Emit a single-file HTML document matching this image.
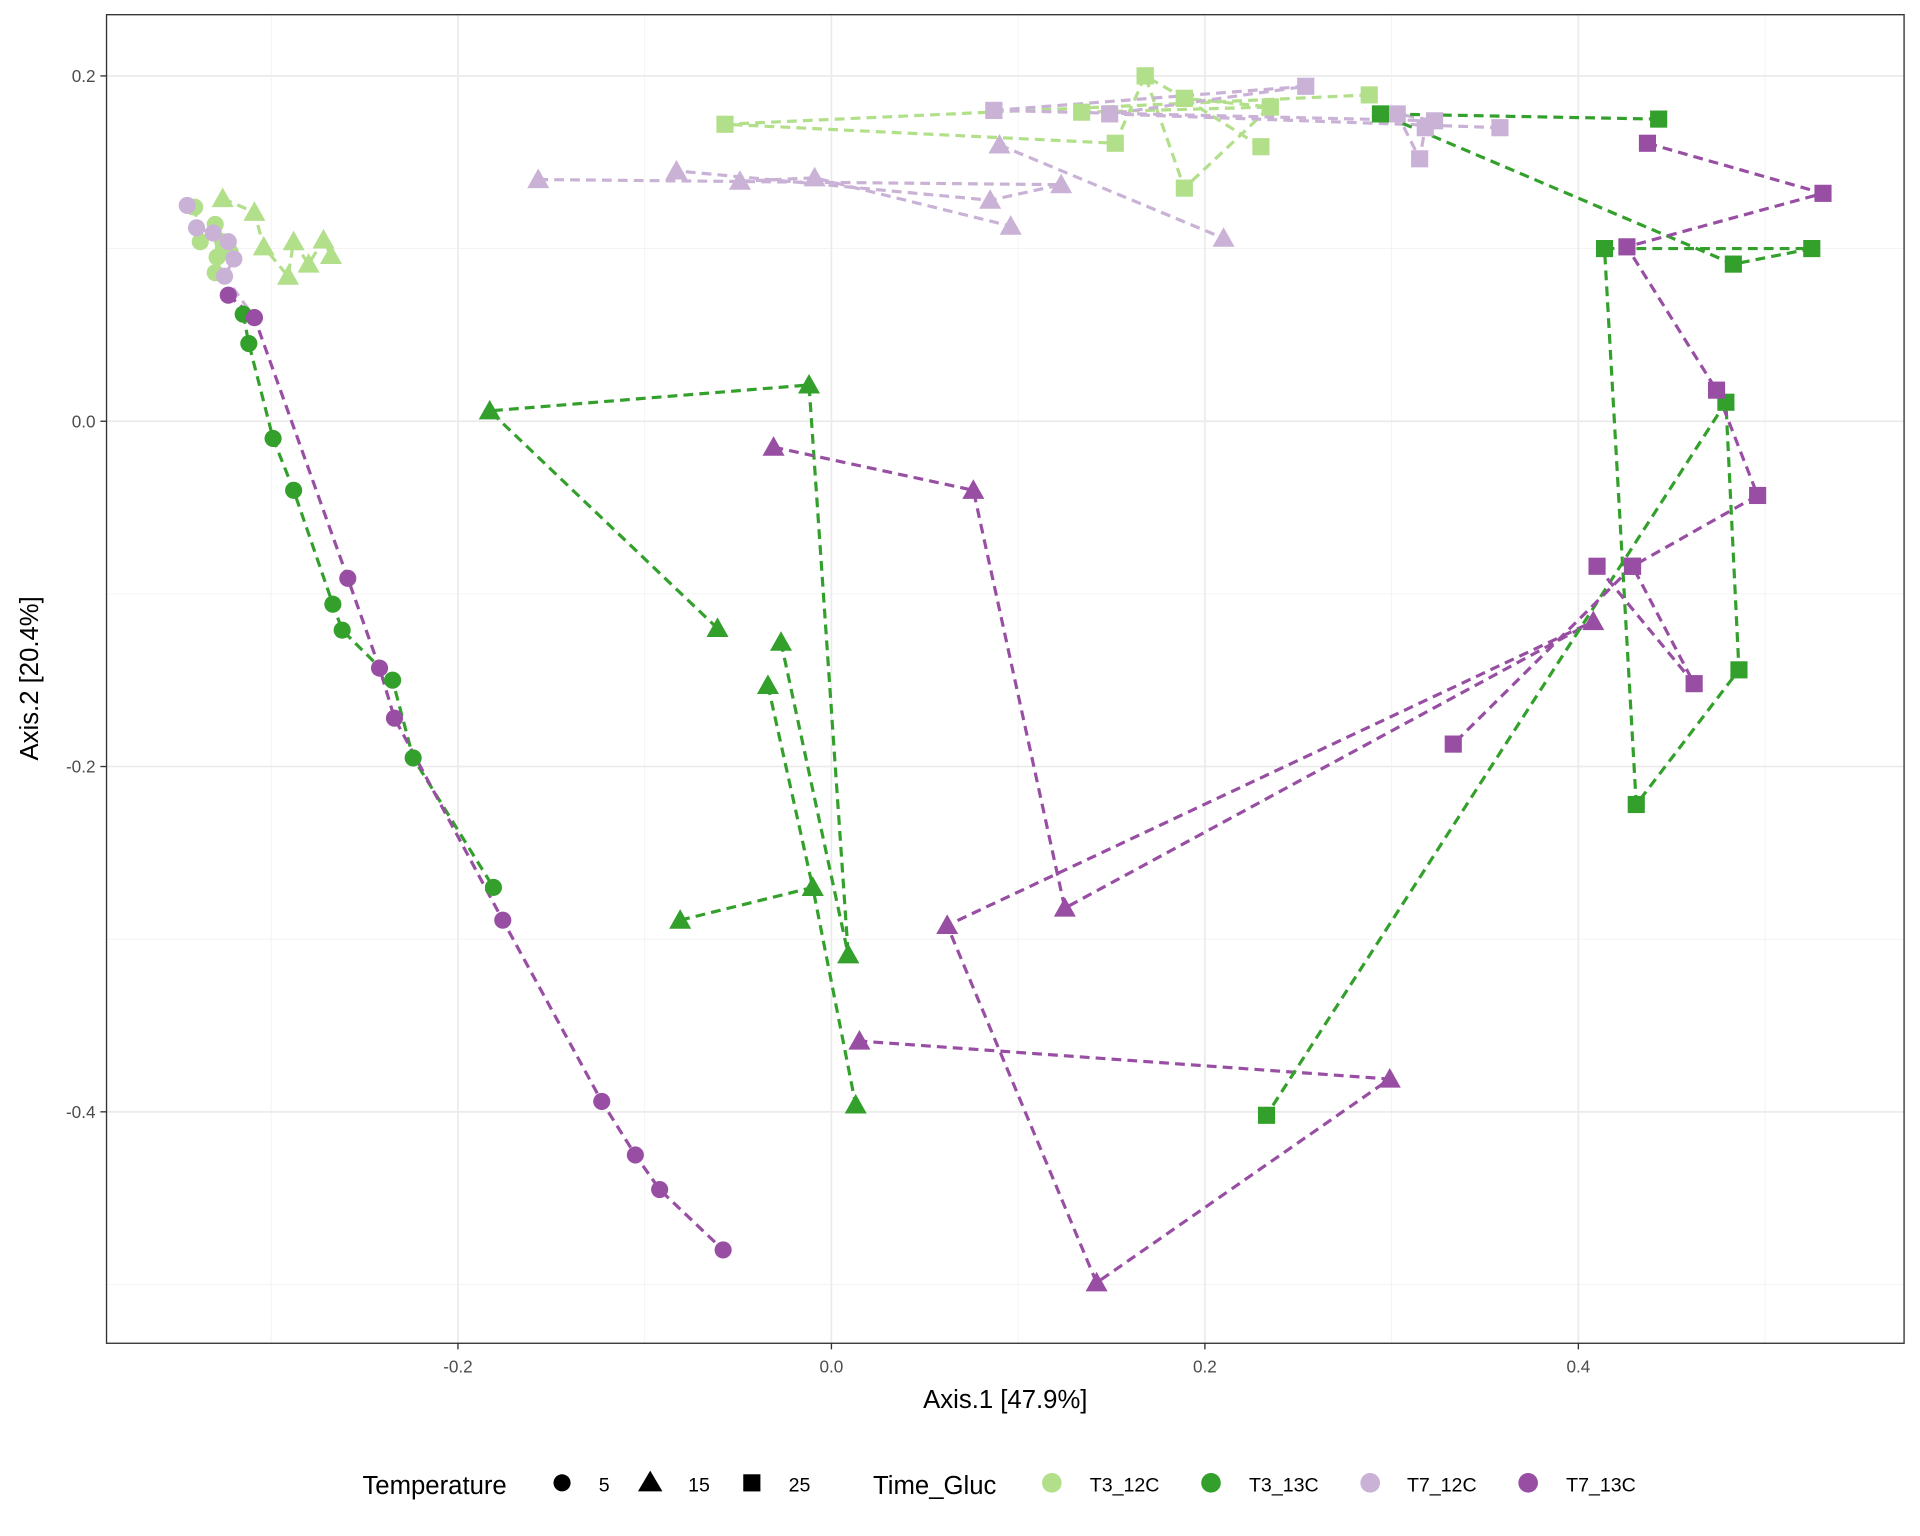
<!DOCTYPE html>
<html><head><meta charset="utf-8">
<style>
html,body{margin:0;padding:0;background:#fff;}
svg{display:block;font-family:"Liberation Sans",Arial,sans-serif;}
</style></head>
<body>
<svg id="chart" width="1920" height="1536" viewBox="0 0 1568 1254.4" preserveAspectRatio="none" xmlns="http://www.w3.org/2000/svg">
<rect x="0" y="0" width="1568" height="1254.4" fill="#fff"/>
<g id="grid"></g>
<g id="lines"></g>
<g id="marks"></g>
<rect x="87" y="12" width="1468" height="1085" fill="none" stroke="#333" stroke-width="1.1"/>
<g id="axes"></g>
<text x="821" y="1150" text-anchor="middle" font-size="21" fill="#000">Axis.1   [47.9%]</text>
<text transform="translate(31,554) rotate(-90)" text-anchor="middle" font-size="21" fill="#000">Axis.2   [20.4%]</text>
<g id="legend">
<text x="296" y="1220" font-size="21">Temperature</text>
<circle cx="459" cy="1211" r="7" fill="#000"/>
<text x="489" y="1218" font-size="16">5</text>
<path d="M521,1218 L531,1201 L541,1218 Z" fill="#000"/>
<text x="562" y="1218" font-size="16">15</text>
<rect x="607" y="1204" width="14" height="14" fill="#000"/>
<text x="644" y="1218" font-size="16">25</text>
<text x="713" y="1220" font-size="21">Time_Gluc</text>
<circle cx="859" cy="1211" r="8" fill="#b2df8a"/>
<text x="890" y="1218" font-size="16">T3_12C</text>
<circle cx="989" cy="1211" r="8" fill="#33a02c"/>
<text x="1020" y="1218" font-size="16">T3_13C</text>
<circle cx="1119" cy="1211" r="8" fill="#cab2d6"/>
<text x="1149" y="1218" font-size="16">T7_12C</text>
<circle cx="1248" cy="1211" r="8" fill="#984ea3"/>
<text x="1279" y="1218" font-size="16">T7_13C</text>
</g>
</svg>
<script>
const xTicks=[-0.2,0.0,0.2,0.4];
const yTicks=[-0.4,-0.2,0.0,0.2];
const xTickLabels=["-0.2","0.0","0.2","0.4"];
const yTickLabels=["-0.4","-0.2","0.0","0.2"];
const groupNames=["T3_12C","T3_13C","T7_12C","T7_13C"];
const groupColors={"T3_12C":"#b2df8a","T3_13C":"#33a02c","T7_12C":"#cab2d6","T7_13C":"#984ea3"};
// each path: [group, temperature, [[x,y],...]]
const t3_13c_circle=[[-0.315,0.062],[-0.312,0.045],[-0.299,-0.010],[-0.288,-0.040],[-0.267,-0.106],[-0.262,-0.121],[-0.235,-0.150],[-0.224,-0.195],[-0.181,-0.270]];
const t7_13c_circle=[[-0.323,0.073],[-0.309,0.060],[-0.259,-0.091],[-0.242,-0.143],[-0.234,-0.172],[-0.176,-0.289],[-0.123,-0.394],[-0.105,-0.425],[-0.092,-0.445],[-0.058,-0.480]];
const t3_12c_circle=[[-0.341,0.124],[-0.338,0.104],[-0.330,0.114],[-0.329,0.095],[-0.330,0.086],[-0.326,0.104],[-0.322,0.098]];
const t7_12c_circle=[[-0.345,0.125],[-0.340,0.112],[-0.331,0.109],[-0.323,0.104],[-0.320,0.094],[-0.325,0.084],[-0.309,0.060]];
const t3_12c_tri=[[-0.326,0.129],[-0.309,0.121],[-0.304,0.101],[-0.291,0.084],[-0.288,0.104],[-0.280,0.091],[-0.272,0.105],[-0.268,0.096]];
const t7_12c_tri_a=[[-0.157,0.140],[0.123,0.137],[0.085,0.128],[-0.083,0.145]];
const t7_12c_tri_b=[[-0.049,0.139],[-0.009,0.141],[0.096,0.113]];
const t7_12c_tri_c=[[0.090,0.160],[0.210,0.106]];
const t3_12c_sq_a=[[0.288,0.189],[-0.057,0.172],[0.152,0.161],[0.168,0.200],[0.189,0.187],[0.235,0.182]];
const t3_12c_sq_b=[[0.134,0.179],[0.235,0.182],[0.189,0.135],[0.168,0.200]];
const t3_12c_sq_c=[[0.230,0.159],[0.189,0.187]];
const t7_12c_sq_a=[[0.087,0.180],[0.254,0.194],[0.149,0.178],[0.358,0.170]];
const t7_12c_sq_b=[[0.087,0.180],[0.323,0.174],[0.303,0.178],[0.315,0.152],[0.318,0.170]];
const t3_13c_tri_a=[[-0.061,-0.120],[-0.183,0.006],[-0.012,0.021],[0.009,-0.309]];
const t3_13c_tri_b=[[-0.027,-0.128],[0.009,-0.309]];
const t3_13c_tri_c=[[-0.034,-0.153],[-0.010,-0.270]];
const t3_13c_tri_d=[[-0.081,-0.289],[-0.010,-0.270],[0.013,-0.396]];
const t7_13c_tri_a=[[-0.031,-0.015],[0.076,-0.040],[0.125,-0.282],[0.408,-0.116],[0.062,-0.292],[0.142,-0.499],[0.299,-0.381],[0.015,-0.359]];
const t3_13c_sq=[[0.443,0.175],[0.294,0.178],[0.483,0.091],[0.525,0.100],[0.414,0.100],[0.431,-0.222],[0.486,-0.144],[0.479,0.011],[0.233,-0.402]];
const t7_13c_sq_a=[[0.437,0.161],[0.531,0.132],[0.426,0.101],[0.474,0.018],[0.496,-0.043],[0.429,-0.084],[0.333,-0.187]];
const t7_13c_sq_b=[[0.410,-0.084],[0.462,-0.152],[0.429,-0.084]];
const seriesList=[
 ["T3_12C",5,t3_12c_circle],["T7_12C",5,t7_12c_circle],["T3_12C",15,t3_12c_tri],
 ["T7_12C",15,t7_12c_tri_a],["T7_12C",15,t7_12c_tri_b],["T7_12C",15,t7_12c_tri_c],
 ["T3_12C",25,t3_12c_sq_a],["T3_12C",25,t3_12c_sq_b],["T3_12C",25,t3_12c_sq_c],
 ["T7_12C",25,t7_12c_sq_a],["T7_12C",25,t7_12c_sq_b],
 ["T3_13C",5,t3_13c_circle],["T7_13C",5,t7_13c_circle],
 ["T3_13C",15,t3_13c_tri_a],["T3_13C",15,t3_13c_tri_b],["T3_13C",15,t3_13c_tri_c],["T3_13C",15,t3_13c_tri_d],
 ["T7_13C",15,t7_13c_tri_a],["T3_13C",25,t3_13c_sq],["T7_13C",25,t7_13c_sq_a],["T7_13C",25,t7_13c_sq_b]
];
const NS="http://www.w3.org/2000/svg";
function xs(v){return 679+v*1525;}
function ys(v){return 344-v*1410;}
function mk(t,a,p){const e=document.createElementNS(NS,t);for(const k in a)e.setAttribute(k,a[k]);p.appendChild(e);return e;}
const grid=document.getElementById('grid'),axes=document.getElementById('axes'),lines=document.getElementById('lines'),marks=document.getElementById('marks');
// minor grid
for(let v=-0.3;v<=0.51;v+=0.2){const g=mk('line',{x1:xs(v),x2:xs(v),y1:12,y2:1097,stroke:'#f2f2f2','stroke-width':0.7},grid);}
for(let v=-0.5;v<=0.11;v+=0.2){const g=mk('line',{x1:87,x2:1555,y1:ys(v),y2:ys(v),stroke:'#f2f2f2','stroke-width':0.7},grid);}
xTicks.forEach((v,i)=>{
 const g=mk('line',{x1:xs(v),x2:xs(v),y1:12,y2:1097,stroke:'#ebebeb','stroke-width':1.4},grid);
 
 const t=mk('line',{x1:xs(v),x2:xs(v),y1:1097,y2:1102,stroke:'#333','stroke-width':1.1},axes);
 
 const l=mk('text',{x:xs(v),y:1121,'text-anchor':'middle','font-size':14,fill:'#4d4d4d'},axes);l.textContent=xTickLabels[i];
 
});
yTicks.forEach((v,i)=>{
 const g=mk('line',{x1:87,x2:1555,y1:ys(v),y2:ys(v),stroke:'#ebebeb','stroke-width':1.4},grid);
 
 const t=mk('line',{x1:82,x2:87,y1:ys(v),y2:ys(v),stroke:'#333','stroke-width':1.1},axes);
 
 const l=mk('text',{x:78,y:ys(v)+5,'text-anchor':'end','font-size':14,fill:'#4d4d4d'},axes);l.textContent=yTickLabels[i];
 
});
seriesList.forEach(s=>{
 const col=groupColors[s[0]];
 const pts=s[2].map(p=>xs(p[0])+','+ys(p[1])).join(' ');
 const pl=mk('polyline',{points:pts,fill:'none',stroke:col,'stroke-width':2.6,'stroke-dasharray':'8,5'},lines);
 
 
});
seriesList.forEach(s=>{
 const col=groupColors[s[0]];
 s[2].forEach(p=>{
  const x=xs(p[0]),y=ys(p[1]);let m;
  if(s[1]===5){m=mk('circle',{cx:x,cy:y,r:7,fill:col},marks);}
  else if(s[1]===15){m=mk('path',{d:`M${x-9},${y+7} L${x},${y-9} L${x+9},${y+7} Z`,fill:col},marks);}
  else {m=mk('rect',{x:x-7,y:y-7,width:14,height:14,fill:col},marks);}
  
  
 });
});
</script>
</body></html>
